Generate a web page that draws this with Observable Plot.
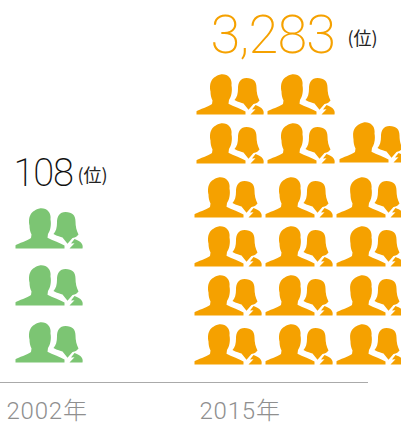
<!DOCTYPE html>
<html><head><meta charset="utf-8">
<style>html,body{margin:0;padding:0;background:#fff}svg{display:block}
.big text{letter-spacing:-0.9px}.mid text{letter-spacing:-1.2px}.yr text{letter-spacing:.8px}</style>
<script src="https://cdn.jsdelivr.net/npm/d3@7"></script>
<script src="https://cdn.jsdelivr.net/npm/@observablehq/plot@0.6"></script>
</head><body><div id="chart"></div>
<script>
const years = ["2002年", "2015年"];
const totals = ["108", "3,283"];
const unitLabel = "(位)";
const iconCounts = [3, 17];
const colors = ["#7cc573", "#f5a100"];

// Row layout, in px above the axis line, and left edge of each slot
const greenRows = [20, 77, 134];
const greenCols = [15];
const orangeRows = [18, 67, 116, 165, 219, 268];
const orangeCols = [194, 265, 336];
const orangeUpperCols = [196, 267, 339];

const icons = [];
for (let i = 0; i < iconCounts[0]; i++) icons.push({x: greenCols[0], y: greenRows[i], g: 0});
for (let i = 0; i < iconCounts[1]; i++) {
  const row = Math.floor(i / 3), col = i % 3;
  const cols = row >= 4 ? orangeUpperCols : orangeCols;
  icons.push({x: cols[col], y: orangeRows[row] + (row === 4 && col === 2 ? 1 : 0), g: 1});
}

const person = {
  draw(c) {
    // man
    c.moveTo(0, 0);
    c.lineTo(0, -3.2);
    c.bezierCurveTo(3, -5, 12, -8, 15.5, -10.5);
    c.lineTo(16, -14);
    c.bezierCurveTo(14.5, -17, 14, -20, 14, -23);
    c.bezierCurveTo(13, -29, 13, -37, 24, -40);
    c.bezierCurveTo(31, -41, 36, -36, 35, -29);
    c.bezierCurveTo(36, -24, 35, -18, 32.5, -14.5);
    c.lineTo(32, -10.8);
    c.bezierCurveTo(37, -8, 44, -6, 49, -3);
    c.lineTo(49, 0);
    c.closePath();
    // woman
    c.moveTo(50, -36.5);
    c.bezierCurveTo(44, -36.5, 41.5, -32, 41.5, -26);
    c.bezierCurveTo(41.5, -21, 40.5, -17, 38, -14.5);
    c.bezierCurveTo(42, -12, 45, -12, 47, -11);
    c.lineTo(52, -4.8);
    c.lineTo(57, -10.5);
    c.bezierCurveTo(60, -11, 62, -12.5, 63, -14);
    c.bezierCurveTo(61, -18, 60, -22, 60, -27);
    c.bezierCurveTo(60, -33, 57, -36.5, 50, -36.5);
    c.closePath();
    // woman's shoulder
    c.moveTo(59, -9.5);
    c.lineTo(55.5, -5);
    c.lineTo(59, -5.2);
    c.lineTo(54, 0);
    c.lineTo(67, 0);
    c.bezierCurveTo(68, -4, 66, -7, 59, -9.5);
    c.closePath();
  }
};

const labelFont = "'Noto Sans CJK JP','Noto Sans',sans-serif";
const numberFont = "Roboto,'Open Sans',sans-serif";
const num = (idx, x, y, size, cls) => Plot.text([idx], {
  x: () => x, y: () => y, text: i => totals[i], textAnchor: "start", lineAnchor: "bottom",
  fill: i => i ? colors[1] : "#111", fontSize: size, fontFamily: numberFont, fontWeight: 200,
  className: cls
});

const chart = Plot.plot({
  width: 401, height: 423,
  marginTop: 0, marginRight: 0, marginBottom: 0, marginLeft: 0,
  x: {domain: [0, 401], range: [0, 401], axis: null},
  y: {domain: [-41, 382], range: [423, 0], axis: null},
  marks: [
    Plot.ruleY([0], {x1: 0, x2: 368, stroke: "#aaaaaa", strokeWidth: 1}),
    Plot.dot(icons, {
      x: "x", y: "y", r: 10, symbol: person, stroke: "none",
      fill: d => colors[d.g]
    }),
    num(0, 13, 197, 38, "mid"),
    num(1, 210, 330, 54, "big"),
    Plot.text([0, 1], {
      x: i => [77, 347][i], y: i => [201, 338][i],
      text: () => unitLabel, textAnchor: "start", lineAnchor: "bottom",
      fill: "#222", fontSize: 18, fontFamily: labelFont
    }),
    Plot.text([0, 1], {
      x: i => [6, 199][i], y: -36,
      text: i => years[i], textAnchor: "start", lineAnchor: "bottom",
      fill: "#8f8f8f", fontSize: 24, fontFamily: "Roboto,'Noto Sans CJK JP',sans-serif", fontWeight: 300,
      className: "yr"
    })
  ]
});
document.getElementById("chart").appendChild(chart);
</script></body></html>
